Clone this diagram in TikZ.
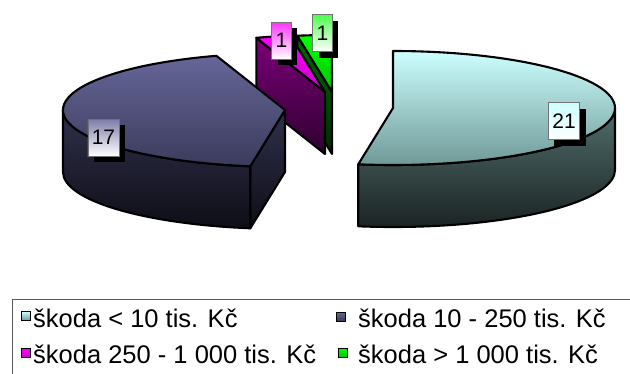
\documentclass[tikz,border=0pt]{standalone}
\usepackage{fontspec}
\setmainfont{Liberation Sans}
\usetikzlibrary{shadows}
\definecolor{cyanT}{HTML}{CCFFFF}
\definecolor{cyanM}{HTML}{6E9896}
\definecolor{cyanS}{HTML}{506E6C}
\definecolor{cyanD}{HTML}{1A2222}
\definecolor{blueT}{HTML}{666699}
\definecolor{blueM}{HTML}{3B3B5C}
\definecolor{blueS}{HTML}{30304C}
\definecolor{blueD}{HTML}{0E0E16}
\definecolor{magT}{HTML}{FF00FF}
\definecolor{magM}{HTML}{CC00CC}
\definecolor{magS}{HTML}{7A007A}
\definecolor{magD}{HTML}{2E002E}
\definecolor{grnT}{HTML}{00FF00}
\definecolor{grnM}{HTML}{00C800}
\definecolor{grnS}{HTML}{006A00}
\definecolor{grnD}{HTML}{002A00}
\tikzset{
  rim/.style={x radius=222,y radius=57},
  face/.style={draw=black,line width=2.1pt,line join=round},
  lbl/.style={draw=black!55,line width=0.6pt,bottom color=white,minimum height=37pt,
    inner xsep=4pt,inner ysep=0pt,font=\fontsize{21}{22}\selectfont,
    drop shadow={fill=black,opacity=1,shadow xshift=6pt,shadow yshift=-6pt}},
  key/.style={draw=black,line width=1pt,minimum size=9pt,inner sep=0pt},
  keytext/.style={anchor=base west,inner sep=0pt,font=\fontsize{25.5}{28}\selectfont}
}
\begin{document}
\begin{tikzpicture}[x=1pt,y=-1pt]
\useasboundingbox (0,0) rectangle (630,373);
\clip (0,0) rectangle (630,373);
\draw [face, top color=grnS, bottom color=grnD] (332,92) -- ++(261:222 and 57) -- ++(0,62) -- (332,154) -- cycle;
\draw [face, top color=grnT, bottom color=grnM] (332,92) -- ++(261:222 and 57) arc[rim,start angle=261,end angle=270] -- cycle;
\draw [face, top color=magS, bottom color=magD] (325,92) -- ++(252:222 and 57) -- ++(0,62) -- (325,154) -- cycle;
\draw [face, top color=magT, bottom color=magM] (325,92) -- ++(252:222 and 57) arc[rim,start angle=252,end angle=261] -- cycle;
\draw [face, top color=blueS, bottom color=blueD] (285,110) -- ++(99:222 and 57) -- ++(0,62) -- (285,172) -- cycle;
\draw [face, top color=blueS, bottom color=blueD] (285,110) ++(99:222 and 57) arc[rim,start angle=99,end angle=180] -- ++(0,62) arc[rim,start angle=180,end angle=99] -- cycle;
\draw [face, top color=blueT, bottom color=blueM] (285,110) -- ++(99:222 and 57) arc[rim,start angle=99,end angle=252] -- cycle;
\draw [face, top color=cyanS, bottom color=cyanD] (393,108) ++(0:222 and 57) arc[rim,start angle=0,end angle=99] -- ++(0,62) arc[rim,start angle=99,end angle=0] -- cycle;
\draw [face, top color=cyanT, bottom color=cyanM] (393,108) -- ++(-90:222 and 57) arc[rim,start angle=-90,end angle=99] -- cycle;
\node [lbl, top color=blueT!85] (lbl17) at (103.5,137.5) {17};
\node [lbl, top color=cyanT] (lbl21) at (564,121) {21};
\node [lbl, top color=magT!80] (lblmag) at (281.5,40.5) {1};
\node [lbl, top color=grnT!70] (lblgrn) at (322.5,33) {1};
\draw [black!65, line width=0.8pt] (12.5,299.5) rectangle (660,420);
\node [key, top color=cyanT, bottom color=cyanM] (key1) at (26,316) {};
\node [keytext] (txt1) at (33,327) {škoda < 10 tis. Kč};
\node [key, top color=blueT, bottom color=blueM] (key2) at (341,316.5) {};
\node [keytext] (txt2) at (358,327) {škoda 10 - 250 tis. Kč};
\node [key, top color=magT, bottom color=magM] (key3) at (26,352.5) {};
\node [keytext] (txt3) at (33,363) {škoda 250 - 1 000 tis. Kč};
\node [key, top color=grnT, bottom color=grnM] (key4) at (342.5,352.5) {};
\node [keytext] (txt4) at (358,363) {škoda > 1 000 tis. Kč};
\end{tikzpicture}
\end{document}
